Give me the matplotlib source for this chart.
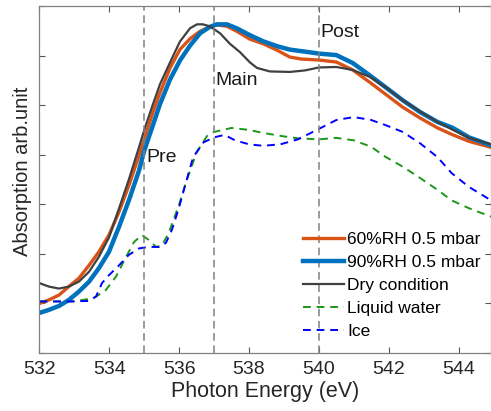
import numpy as np
import matplotlib
matplotlib.use("Agg")
import matplotlib.pyplot as plt

plt.rcParams['font.family'] = ['Liberation Sans', 'DejaVu Sans']

# 60%RH 0.5 mbar
rh60_x = [532.0, 532.27, 532.56, 532.84, 533.13, 533.42, 533.70, 533.99, 534.28, 534.56, 534.85,
          535.0, 535.26, 535.45, 535.74, 536.02, 536.31, 536.6, 536.88, 537.08, 537.37, 537.65,
          538.03, 538.4, 538.8, 539.17, 539.5, 540.0, 540.5, 540.97, 541.46, 541.95, 542.4,
          542.9, 543.4, 543.84, 544.3, 544.93]
rh60_y = [1.00, 1.07, 1.17, 1.34, 1.51, 1.77, 2.04, 2.38, 2.85, 3.38, 3.98,
          4.31, 4.88, 5.25, 5.75, 6.12, 6.34, 6.49, 6.58, 6.62, 6.59, 6.49,
          6.33, 6.24, 6.11, 5.97, 5.93, 5.91, 5.87, 5.71, 5.46, 5.20, 4.96,
          4.74, 4.54, 4.40, 4.27, 4.15]

# 90%RH 0.5 mbar
rh90_x = [532.0, 532.27, 532.56, 532.84, 533.13, 533.42, 533.70, 533.99, 534.28, 534.56, 534.85,
          535.0, 535.26, 535.45, 535.74, 536.03, 536.31, 536.6, 536.88, 537.08, 537.37, 537.65,
          538.03, 538.4, 538.8, 539.17, 539.6, 540.0, 540.5, 540.97, 541.46, 541.95, 542.4,
          542.9, 543.4, 543.84, 544.3, 544.93]
rh90_y = [0.81, 0.87, 0.95, 1.07, 1.24, 1.44, 1.71, 2.04, 2.55, 3.08, 3.68,
          4.08, 4.62, 5.02, 5.52, 5.91, 6.20, 6.45, 6.58, 6.63, 6.63, 6.55,
          6.41, 6.29, 6.19, 6.12, 6.08, 6.04, 6.01, 5.85, 5.60, 5.34, 5.10,
          4.86, 4.66, 4.54, 4.35, 4.19]

# Dry condition
dry_x = [532.0, 532.27, 532.56, 532.84, 533.13, 533.42, 533.70, 533.99, 534.28, 534.56, 534.85,
         535.0, 535.26, 535.45, 535.77, 536.02, 536.31, 536.51, 536.68, 536.88, 537.17, 537.45,
         537.74, 538.03, 538.23, 538.6, 539.17, 539.6, 540.0, 540.5, 540.97, 541.46, 541.95,
         542.4, 542.9, 543.4, 543.84, 544.3, 544.93]
dry_y = [1.41, 1.34, 1.30, 1.34, 1.44, 1.64, 1.94, 2.33, 2.92, 3.50, 4.15,
         4.50, 5.04, 5.42, 5.91, 6.28, 6.55, 6.63, 6.63, 6.59, 6.45, 6.24,
         6.07, 5.86, 5.75, 5.68, 5.67, 5.70, 5.76, 5.77, 5.71, 5.57, 5.34,
         5.10, 4.87, 4.66, 4.50, 4.34, 4.21]

# Liquid water
liq_x = [532.0, 533.0, 533.56, 533.9, 534.19, 534.48, 534.71, 534.93, 535.13, 535.34, 535.5,
         535.7, 536.0, 536.2, 536.5, 536.8, 537.0, 537.5, 538.0, 538.4, 538.9, 539.4,
         540.0, 540.5, 541.0, 541.5, 541.9, 542.4, 542.9, 543.4, 543.8, 544.3, 544.93]
liq_y = [1.04, 1.04, 1.11, 1.27, 1.54, 1.94, 2.24, 2.38, 2.28, 2.14, 2.16,
         2.42, 3.00, 3.45, 4.05, 4.38, 4.46, 4.54, 4.50, 4.44, 4.38, 4.33,
         4.31, 4.34, 4.29, 4.16, 3.96, 3.76, 3.53, 3.29, 3.08, 2.92, 2.75]

# Ice
ice_x = [532.0, 532.8, 533.4, 533.62, 533.79, 533.99, 534.28, 534.56, 534.85, 535.13, 535.42,
         535.62, 535.79, 535.99, 536.19, 536.4, 536.7, 537.0, 537.3, 537.6, 538.0, 538.4,
         538.9, 539.4, 540.0, 540.5, 541.0, 541.5, 541.9, 542.4, 542.9, 543.4, 543.8,
         544.3, 544.93]
ice_y = [1.04, 1.04, 1.05, 1.14, 1.41, 1.57, 1.77, 1.98, 2.11, 2.14, 2.14,
         2.22, 2.48, 2.92, 3.43, 3.95, 4.25, 4.35, 4.40, 4.29, 4.21, 4.18,
         4.21, 4.31, 4.52, 4.70, 4.76, 4.70, 4.60, 4.46, 4.23, 3.95, 3.63,
         3.35, 3.08]

marks = [535, 537, 540]
mark_labels = ["Pre", "Main", "Post"]
mark_label_y = [3.95, 5.5, 6.47]

fig = plt.figure(figsize=(4.91, 4.11), dpi=100)
ax = fig.add_axes([0.0804, 0.1411, 0.9196, 0.8443])

ax.plot(rh60_x, rh60_y, color='#D95319', lw=2.4, label='60%RH 0.5 mbar')
ax.plot(rh90_x, rh90_y, color='#0072BD', lw=3.2, label='90%RH 0.5 mbar')
ax.plot(dry_x, dry_y, color='#404040', lw=1.6, label='Dry condition')
ax.plot(liq_x, liq_y, color='#1A961A', lw=1.4, ls=(0, (4, 3)), label='Liquid water')
ax.plot(ice_x, ice_y, color='#0000FF', lw=1.4, ls=(0, (4, 3)), label='Ice')

for xm, txt, ty in zip(marks, mark_labels, mark_label_y):
    ax.axvline(xm, color='#808080', lw=1.1, ls=(0, (5, 3)), zorder=5)
    ax.text(xm + 0.05, ty, txt, fontsize=14, va='center', ha='left', color='#1a1a1a')

ax.set_xlim(532, 544.93)
ax.set_ylim(0, 7)
ax.set_xticks([532, 534, 536, 538, 540, 542, 544])
ax.set_yticks(range(0, 8))
ax.set_yticklabels([])
ax.tick_params(direction='in', top=True, right=True, labelsize=14, length=4,
               color='#555555', width=0.8, pad=6, labelcolor='#262626')
for s in ax.spines.values():
    s.set_color('#808080')
    s.set_linewidth(0.9)

ax.set_xlabel('Photon Energy (eV)', fontsize=15.5, color='#262626', labelpad=2)
ax.set_ylabel('Absorption arb.unit', fontsize=14.5, color='#262626')
ax.yaxis.set_label_coords(-0.016, 0.523)

ax.legend(loc='lower right', bbox_to_anchor=(1.0, 0.01), frameon=False, fontsize=12.5,
          handlelength=2.4, handletextpad=0.15, labelspacing=0.45, borderaxespad=0.2)

fig.savefig('out.png', dpi=100)
